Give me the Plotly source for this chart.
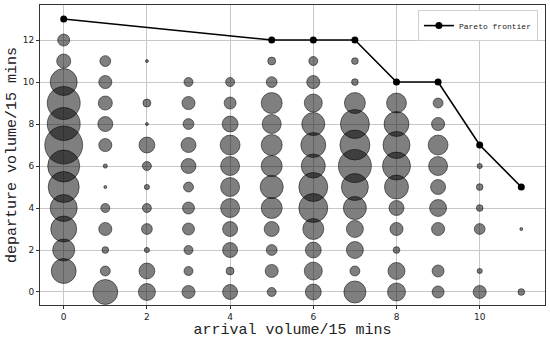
import plotly.graph_objects as go

# arrival volume (x) values 0..11, departure volume (y) values 0..12
arrival_values = list(range(12))
departure_values = list(range(13))

# counts[arrival] -> list of counts for departure 0..12
counts = [
    [0, 69, 54, 75, 81, 107, 114, 160, 121, 121, 81, 22, 16],   # arrival 0
    [69, 11, 5, 19, 9, 1, 2, 19, 25, 22, 19, 13, 0],            # arrival 1
    [32, 28, 3, 13, 9, 3, 9, 28, 1, 7, 0, 1, 0],                # arrival 2
    [19, 9, 9, 16, 16, 11, 25, 25, 13, 19, 9, 0, 0],            # arrival 3
    [25, 7, 25, 25, 40, 40, 40, 44, 28, 16, 9, 0, 0],           # arrival 4
    [9, 19, 13, 25, 49, 59, 49, 49, 40, 49, 13, 7, 0],          # arrival 5
    [28, 36, 28, 49, 93, 93, 64, 69, 59, 36, 19, 9, 0],         # arrival 6
    [54, 11, 32, 32, 59, 81, 121, 100, 93, 49, 5, 5, 0],        # arrival 7
    [36, 32, 5, 19, 25, 64, 87, 81, 69, 44, 0, 0, 0],           # arrival 8
    [16, 16, 0, 19, 32, 25, 40, 44, 19, 11, 0, 0, 0],           # arrival 9
    [19, 3, 0, 13, 5, 5, 3, 0, 0, 0, 0, 0, 0],                  # arrival 10
    [5, 0, 0, 1, 0, 0, 0, 0, 0, 0, 0, 0, 0],                    # arrival 11
]

pareto_x = [0, 5, 6, 7, 8, 9, 10, 11]
pareto_y = [13, 12, 12, 12, 10, 10, 7, 5]

xticks = [0, 2, 4, 6, 8, 10]
yticks = [0, 2, 4, 6, 8, 10, 12]

bx, by, bs = [], [], []
for a in arrival_values:
    for d in departure_values:
        c = counts[a][d]
        if c > 0:
            bx.append(a)
            by.append(d)
            bs.append(c)

fig = go.Figure()
fig.add_trace(go.Scatter(
    x=bx, y=by, mode="markers", showlegend=False,
    marker=dict(size=bs, sizemode="area", sizeref=2 / 9, opacity=1,
                color="rgba(0,0,0,0.5)",
                line=dict(color="rgba(0,0,0,0.5)", width=1)),
    hoverinfo="skip",
))
fig.add_trace(go.Scatter(
    x=pareto_x, y=pareto_y, mode="lines+markers", name="Pareto frontier",
    line=dict(color="black", width=1.6),
    marker=dict(color="black", size=7),
))

axis_common = dict(
    showgrid=True, gridcolor="#c8c8c8", gridwidth=1, automargin=False,
    zeroline=False, showline=True, linecolor="#333", linewidth=1,
    mirror=True, ticks="outside", ticklen=3, tickcolor="#333",
    tickfont=dict(family="DejaVu Sans", size=9, color="#222"),
)

fig.update_layout(
    width=550, height=341,
    margin=dict(l=40, r=5, t=5, b=36),
    paper_bgcolor="white", plot_bgcolor="white",
    xaxis=dict(range=[-0.57, 11.57], tickvals=xticks,
               title=dict(text="arrival volume/15 mins", standoff=2,
                          font=dict(family="Liberation Mono", size=15, color="#222")),
               **axis_common),
    yaxis=dict(range=[-0.62, 13.67], tickvals=yticks,
               title=dict(text="departure volume/15 mins", standoff=2,
                          font=dict(family="Liberation Mono", size=15, color="#222")),
               **axis_common),
    legend=dict(x=0.986, y=0.983, xanchor="right", yanchor="top",
                bgcolor="white", bordercolor="#d0d0d0", borderwidth=1,
                font=dict(family="Liberation Mono", size=8, color="#222"),
                itemwidth=30),
)

fig.write_html("out.html", config={"displayModeBar": False},
               post_script="document.body.style.margin='0';")
